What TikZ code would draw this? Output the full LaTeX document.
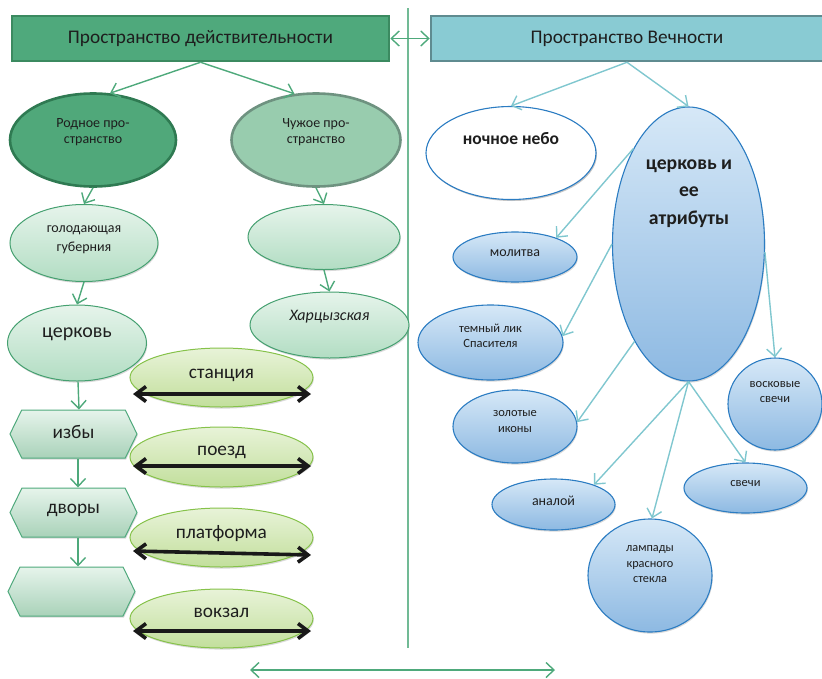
\documentclass[tikz,border=0pt]{standalone}
\usepackage{fontspec}
\setmainfont{Carlito}
\usetikzlibrary{shapes.geometric,shapes.symbols,arrows.meta,shadows}

\definecolor{hdrG}{HTML}{4FA97C}
\definecolor{hdrGb}{HTML}{3B8A60}
\definecolor{hdrB}{HTML}{89CBD3}
\definecolor{hdrBb}{HTML}{5F8B90}
\definecolor{lnG}{HTML}{4EA97B}
\definecolor{lnB}{HTML}{80C7CF}
\definecolor{rodF}{HTML}{50A87A}
\definecolor{rodB}{HTML}{2F7A52}
\definecolor{chuF}{HTML}{98CCAE}
\definecolor{chuB}{HTML}{6E9280}
\definecolor{mgTop}{HTML}{E6F4EB}
\definecolor{mgBot}{HTML}{B2DDC3}
\definecolor{mgB}{HTML}{45A070}
\definecolor{lgTop}{HTML}{E8F3D8}
\definecolor{lgBot}{HTML}{C2DF9C}
\definecolor{lgB}{HTML}{86C24A}
\definecolor{blTop}{HTML}{D6E8F7}
\definecolor{blBot}{HTML}{8DB9E2}
\definecolor{blB}{HTML}{2B7CC2}
\definecolor{txt}{HTML}{1E1E1E}

\tikzset{
  hdr/.style={rectangle, line width=2.5pt, inner sep=0pt, text=txt,
    font=\fontsize{19.3}{21}\selectfont},
  shade/.style={drop shadow={shadow xshift=0.8pt, shadow yshift=-1.6pt, opacity=0.3}},
  ell/.style={ellipse, inner sep=0pt},
  midgreen/.style={ell, shade, top color=mgTop, bottom color=mgBot, draw=mgB, line width=1pt},
  litegreen/.style={ell, shade, top color=lgTop, bottom color=lgBot, draw=lgB, line width=1pt},
  blueell/.style={ell, shade, top color=blTop, bottom color=blBot, draw=blB, line width=1.1pt},
  hexa/.style={signal, signal to=east and west, signal from=nowhere, signal pointer angle=128,
    inner sep=0pt, shade, top color=mgTop, bottom color=mgBot!95!black, draw=hdrG, line width=1pt},
  t13/.style={text=txt, align=center, font=\fontsize{12.5}{15.5}\selectfont},
  t14/.style={text=txt, align=center, font=\fontsize{14}{19}\selectfont},
  t19/.style={text=txt, align=center, font=\fontsize{19.3}{22}\selectfont},
  gline/.style={draw=lnG, line width=1.4pt, -{Straight Barb[length=8pt,width=15pt]}},
  bline/.style={draw=lnB, line width=1.4pt, -{Straight Barb[length=8pt,width=15pt]}},
  dgline/.style={draw=lnG, line width=1.4pt, {Straight Barb[length=8pt,width=15pt]}-{Straight Barb[length=8pt,width=15pt]}},
  blackbar/.style={draw=black!90, line width=3.6pt, {Straight Barb[length=10pt,width=15pt]}-{Straight Barb[length=10pt,width=15pt]}},
}

\begin{document}
\begin{tikzpicture}[x=1pt, y=-1pt]
\useasboundingbox (0,0) rectangle (822,678);

% divider between the two spaces
\coordinate (vtop) at (408,8);
\coordinate (vbot) at (408,648);
\draw[lnG!80, line width=1.2pt] (vtop) -- (vbot);

% headers
\node[hdr, fill=hdrG, draw=hdrGb, minimum width=377pt, minimum height=45pt] (real) at (200.5,38.5) {Пространство действительности};
\node[hdr, fill=hdrB, draw=hdrBb, minimum width=392pt, minimum height=45pt] (eter) at (627,38.5) {Пространство Вечности};
\draw[dgline] (real.east) -- (eter.west);

% ---- left half ----
\node[ell, fill=rodF, draw=rodB, line width=2.6pt, minimum width=166pt, minimum height=93pt] (rod) at (93,140) {};
\node[t13, font=\fontsize{14}{16}\selectfont] (rodt) at (93,132) {Родное про-\\странство};
\node[ell, fill=chuF, draw=chuB, line width=2.6pt, minimum width=169pt, minimum height=93pt] (chu) at (316,140) {};
\node[t13, font=\fontsize{14}{16}\selectfont] (chut) at (316,132) {Чужое про-\\странство};

\node[midgreen, minimum width=148pt, minimum height=77pt] (golod) at (84,243) {};
\node[t14] (golodt) at (84,240) {голодающая\\губерния};
\node[midgreen, minimum width=139pt, minimum height=76pt] (cerk) at (77,343) {};
\node[t19, font=\fontsize{20}{22}\selectfont] (cerkt) at (77,334) {церковь};

\node[hexa, minimum width=127pt, minimum height=48pt] (izby) at (73.5,434) {};
\node[t19] (izbyt) at (73.5,432) {избы};
\node[hexa, minimum width=127pt, minimum height=49pt] (dvory) at (73.5,512.5) {};
\node[t19] (dvoryt) at (73.5,510) {дворы};
\node[hexa, minimum width=127pt, minimum height=49pt] (empty) at (71.5,591.5) {};

\node[midgreen, minimum width=152pt, minimum height=65pt] (blank) at (324,237) {};
\node[midgreen, minimum width=159pt, minimum height=66pt] (khar) at (329.5,325) {};
\node[t14, font=\fontsize{16}{19}\selectfont\itshape] (khart) at (329.5,317) {Харцызская};

% railway ovals
\node[litegreen, minimum width=183pt, minimum height=59pt] (stan) at (221.5,377.5) {};
\node[t19] (stant) at (221.5,375) {станция};
\node[litegreen, minimum width=183pt, minimum height=60pt] (poezd) at (221.5,457) {};
\node[t19] (poezdt) at (221.5,452) {поезд};
\node[litegreen, minimum width=183pt, minimum height=59pt] (platf) at (221.5,537.5) {};
\node[t19] (platft) at (221.5,534) {платформа};
\node[litegreen, minimum width=183pt, minimum height=59pt] (vokz) at (221.5,618.5) {};
\node[t19] (vokzt) at (221.5,613) {вокзал};

\coordinate (stanL) at (133,394);  \coordinate (stanR) at (311,394);
\coordinate (poezdL) at (133,466); \coordinate (poezdR) at (311,466);
\coordinate (platfL) at (133,551); \coordinate (platfR) at (311,555);
\coordinate (vokzL) at (133,631);  \coordinate (vokzR) at (311,631);
\draw[blackbar] (stanL) -- (stanR);
\draw[blackbar] (poezdL) -- (poezdR);
\draw[blackbar] (platfL) -- (platfR);
\draw[blackbar] (vokzL) -- (vokzR);

% left connectors
\draw[gline] (real.south) -- (rod.70);
\draw[gline] (real.south) -- (chu.115);
\draw[gline] (rod.south) -- (golod.north);
\draw[gline] (golod.south) -- (cerk.north);
\draw[gline] ([xshift=1pt]cerk.south) -- ([xshift=5.5pt]izby.north);
\draw[gline] ([xshift=4.5pt]izby.south) -- ([xshift=4.5pt]dvory.north);
\draw[gline] ([xshift=4.5pt]dvory.south) -- ([xshift=6.5pt]empty.north);
\draw[gline] (chu.south) -- (blank.north);
\draw[gline] (blank.south) -- (khar.north);

% ---- right half ----
\node[ell, fill=white, draw=blB, line width=1.1pt, drop shadow={shadow xshift=1pt, shadow yshift=-1.5pt, opacity=0.45}, minimum width=170pt, minimum height=93pt] (night) at (511,153) {};
\node[t14, font=\fontsize{17.5}{20}\selectfont\bfseries] (nightt) at (511,139) {ночное небо};

\node[blueell, minimum width=152pt, minimum height=274pt] (big) at (688.5,244) {};
\node[text=txt, align=center, font=\fontsize{19.7}{27.5}\selectfont\bfseries] (bigt) at (689,193.5) {церковь и\\ее\\атрибуты};

\node[blueell, minimum width=124pt, minimum height=50pt] (mol) at (515,257) {};
\node[t13, font=\fontsize{14}{16}\selectfont] (molt) at (515,253) {молитва};
\node[blueell, minimum width=145pt, minimum height=75pt] (lik) at (490.5,342.5) {};
\node[t13, font=\fontsize{12.5}{15}\selectfont] (likt) at (490.5,335.5) {темный лик\\Спасителя};
\node[blueell, minimum width=124pt, minimum height=73pt] (zol) at (515,426.5) {};
\node[t13, font=\fontsize{12.5}{16}\selectfont] (zolt) at (515,422) {золотые\\иконы};
\node[blueell, minimum width=94pt, minimum height=92pt] (vosk) at (775,404) {};
\node[t13, font=\fontsize{12.5}{15}\selectfont] (voskt) at (775,392.5) {восковые\\свечи};
\node[blueell, minimum width=123pt, minimum height=51pt] (anal) at (553.5,504.5) {};
\node[t13, font=\fontsize{14}{17}\selectfont] (analt) at (553.5,501) {аналой};
\node[blueell, minimum width=123pt, minimum height=50pt] (svech) at (745.5,488) {};
\node[t13] (svecht) at (745.5,484) {свечи};
\node[blueell, minimum width=124pt, minimum height=113pt] (lamp) at (650,575.5) {};
\node[t13, font=\fontsize{12.3}{15.5}\selectfont] (lampt) at (650,564.5) {лампады\\красного\\стекла};

% right connectors
\draw[bline] (eter.south) -- (night.north);
\draw[bline] (eter.south) -- (big.north);
\draw[bline] (big.120) -- (mol.25);
\draw[bline] (big.180) -- (lik.5);
\draw[bline] (big.241) -- (zol.4);
\draw[bline] (big.354) -- (vosk.north);
\draw[bline] (big.south) -- (anal.26);
\draw[bline] (big.south) -- (lamp.88);
\draw[bline] (big.south) -- (svech.north);

% bottom double arrow
\coordinate (botL) at (250,670);
\coordinate (botR) at (555,670);
\draw[dgline] (botL) -- (botR);
\end{tikzpicture}
\end{document}
